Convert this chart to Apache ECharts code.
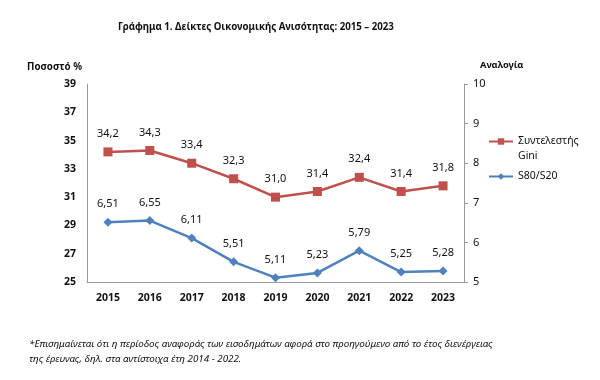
<!DOCTYPE html>
<html><head><meta charset="utf-8">
<script src="https://cdn.jsdelivr.net/npm/echarts@6/dist/echarts.min.js"></script>
<style>html,body{margin:0;padding:0;background:#fff}#c{width:600px;height:380px}</style>
</head><body><div id="c"></div>
<script>
const years = ['2015','2016','2017','2018','2019','2020','2021','2022','2023'];
const gini = [34.2, 34.3, 33.4, 32.3, 31.0, 31.4, 32.4, 31.4, 31.8];
const s80s20 = [6.51, 6.55, 6.11, 5.51, 5.11, 5.23, 5.79, 5.25, 5.28];
const giniName = 'Συντελεστής Gini';
const ratioName = 'S80/S20';
const titleText = 'Γράφημα 1. Δείκτες Οικονομικής Ανισότητας: 2015 – 2023';
const footText = '*Επισημαίνεται ότι η περίοδος αναφοράς των εισοδημάτων αφορά στο προηγούμενο από το έτος διενέργειας\nτης έρευνας, δηλ. στα αντίστοιχα έτη 2014 - 2022.';
const leftName = 'Ποσοστό %';
const rightName = 'Αναλογία';

const FONT = 'Noto Sans';
const chart = echarts.init(document.getElementById('c'), null, {renderer:'canvas'});
const fmt = (d) => {
  const v = d.value;
  return d.seriesIndex === 0 ? v.toFixed(1).replace('.', ',') : v.toFixed(2).replace('.', ',');
};
chart.setOption({
  animation: false,
  textStyle: {fontFamily: FONT},
  title: [
    {text: titleText, left: 113, top: 17,
     textStyle: {fontFamily: FONT, fontSize: 9.7, fontWeight: 'bold', color: '#111'}},
    {text: footText, left: 24, top: 332,
     textStyle: {fontFamily: FONT, fontSize: 9.8, fontStyle: 'italic', fontWeight: 'normal', color: '#111', lineHeight: 15}}
  ],
  legend: {
    orient: 'vertical', left: 483, top: 114, itemGap: 5, itemWidth: 24, itemHeight: 8,
    data: [giniName, ratioName],
    formatter: (n) => n === giniName ? '\nΣυντελεστής\nGini' : n,
    textStyle: {fontFamily: FONT, fontSize: 10.5, color: '#111', lineHeight: 15}
  },
  grid: {left: 87, right: 136, top: 84, bottom: 98},
  xAxis: {
    type: 'category', data: years, boundaryGap: true,
    axisLine: {lineStyle: {color: '#9a9a9a'}},
    axisTick: {show: false},
    axisLabel: {color: '#111', fontSize: 10.5, fontWeight: 'bold', margin: 11}
  },
  yAxis: [
    {type: 'value', min: 25, max: 39, interval: 2, position: 'left',
     name: leftName, nameLocation: 'end', nameGap: 12,
     nameTextStyle: {align: 'right', padding: [0, 5, 0, 0], fontWeight: 'bold', fontSize: 9.8, color: '#111'},
     axisLine: {show: true, lineStyle: {color: '#9a9a9a'}},
     axisTick: {show: false},
     splitLine: {show: false},
     axisLabel: {color: '#111', fontSize: 10.5, fontWeight: 'bold', margin: 11}},
    {type: 'value', min: 5, max: 10, interval: 1, position: 'right',
     name: rightName, nameLocation: 'end', nameGap: 14,
     nameTextStyle: {align: 'left', padding: [0, 0, 0, 16], fontWeight: 'bold', fontSize: 9.3, color: '#111'},
     axisLine: {show: true, lineStyle: {color: '#9a9a9a'}},
     axisTick: {show: true, length: 4, lineStyle: {color: '#9a9a9a'}},
     splitLine: {show: false},
     axisLabel: {color: '#111', fontSize: 11, margin: 9}}
  ],
  series: [
    {name: giniName, type: 'line', yAxisIndex: 0, data: gini,
     symbol: 'rect', symbolSize: 9,
     lineStyle: {color: '#C0504D', width: 2.5}, itemStyle: {color: '#C0504D'},
     label: {show: true, position: 'top', distance: 8, formatter: fmt, color: '#111', fontSize: 11}},
    {name: ratioName, type: 'line', yAxisIndex: 1, data: s80s20,
     symbol: 'diamond', symbolSize: 9,
     lineStyle: {color: '#4F81BD', width: 2.5}, itemStyle: {color: '#4F81BD'},
     label: {show: true, position: 'top', distance: 8, formatter: fmt, color: '#111', fontSize: 11}}
  ]
});
</script></body></html>
